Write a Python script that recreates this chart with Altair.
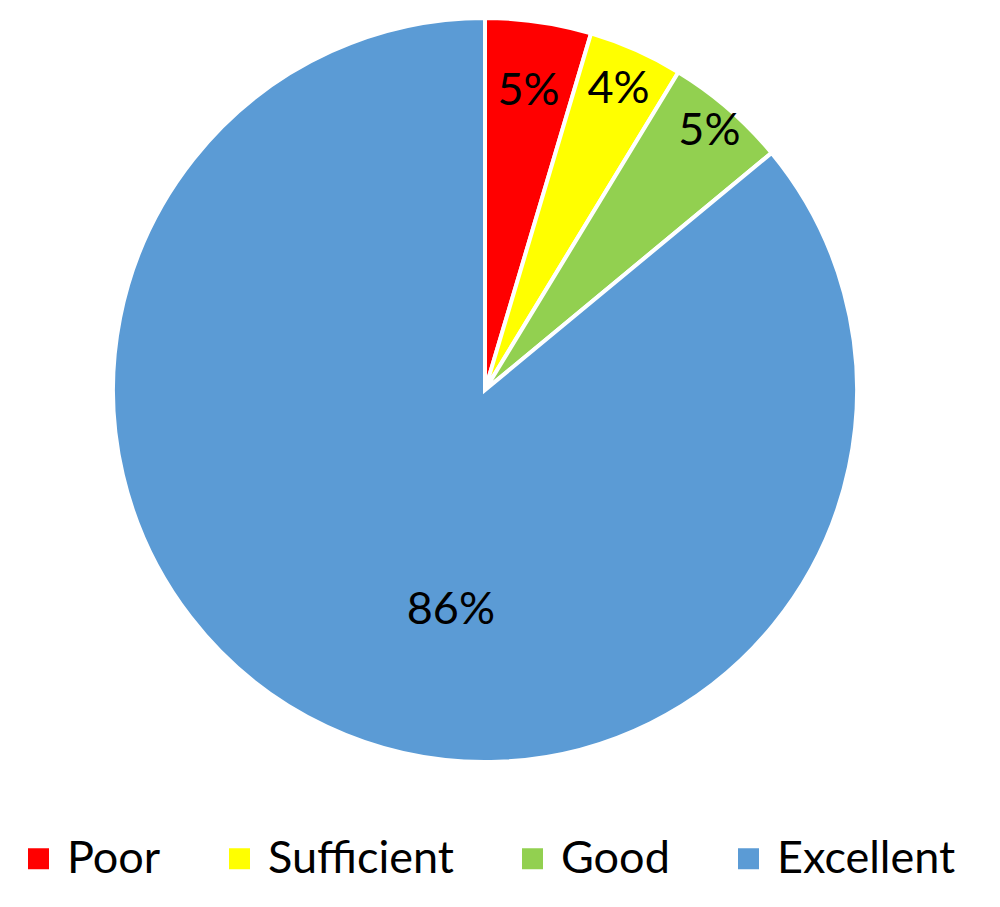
import altair as alt
import pandas as pd

categories = ["Poor", "Sufficient", "Good", "Excellent"]
shares = [4.6, 4.1, 5.3, 86.0]
labels = ["5%", "4%", "5%", "86%"]
colors = ["#FF0000", "#FFFF00", "#92D050", "#5B9BD5"]

df = pd.DataFrame({"cat": categories, "share": shares, "label": labels,
                   "order": list(range(len(categories)))})

CX, CY, R = 477, 382, 372
FONT = "Lato"

base = alt.Chart(df).encode(
    theta=alt.Theta("share:Q", stack=True),
    order=alt.Order("order:Q"),
)

pie = base.mark_arc(stroke="white", strokeWidth=4, x=CX, y=CY).encode(
    radius=alt.value(R),
    color=alt.Color(
        "cat:N",
        scale=alt.Scale(domain=categories, range=colors),
        sort=categories,
        legend=alt.Legend(
            title=None, orient="none", direction="horizontal",
            legendX=8, legendY=828,
            symbolType="square", symbolSize=441, symbolStrokeWidth=0,
            labelFontSize=45, labelFont=FONT, labelColor="black",
            labelLimit=0, columnPadding=56, symbolOffset=0, labelOffset=6,
        ),
    ),
)

def label_layer(cat, r, offset=0.0):
    return base.mark_text(
        x=CX, y=CY, fontSize=45, font=FONT, color="black",
        align="center", baseline="middle", thetaOffset=offset,
    ).encode(
        radius=alt.value(r),
        text=alt.condition(alt.datum.cat == cat, "label:N", alt.value("")),
    )

chart = alt.layer(
    pie,
    label_layer("Poor", 302),
    label_layer("Sufficient", 329),
    label_layer("Good", 343),
    label_layer("Excellent", 223, -0.286),
).properties(width=980, height=880, padding=0).configure_view(stroke=None)

chart.save("out.html", embed_options={"renderer": "svg", "actions": False})
